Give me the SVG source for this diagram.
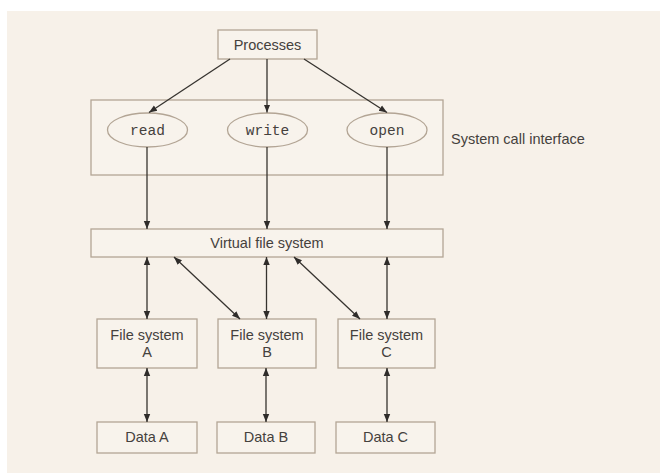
<svg xmlns="http://www.w3.org/2000/svg" width="669" height="473" viewBox="0 0 669 473">
  <style>
    .box { fill: #f8f3ec; stroke: #b3a595; stroke-width: 1.3; }
    .oval { fill: #f8f3ec; stroke: #b3a595; stroke-width: 1.3; }
    .lbl { font-family: "Liberation Sans", Arial, sans-serif; font-size: 14.5px; fill: #45413d; text-anchor: middle; }
    .side { font-family: "Liberation Sans", Arial, sans-serif; font-size: 14.5px; fill: #45413d; }
    .mono { font-family: "Liberation Mono", "DejaVu Sans Mono", monospace; font-size: 14.5px; fill: #45413d; text-anchor: middle; }
    .conn line { stroke: #36332f; stroke-width: 1.3; fill: none; }
    .one { marker-end: url(#head); }
    .two { marker-start: url(#head); marker-end: url(#head); }
  </style>
  <defs>
    <marker id="head" viewBox="0 0 10 10" refX="10" refY="5" markerWidth="8" markerHeight="8" markerUnits="userSpaceOnUse" orient="auto-start-reverse">
      <path d="M0,1 L10,5 L0,9 z" fill="#2f2c2a"/>
    </marker>
  </defs>

  <!-- page background -->
  <rect x="0" y="0" width="669" height="473" fill="#ffffff"/>
  <rect x="7" y="11" width="653" height="462" fill="#f7f1e9"/>

  <!-- processes -->
  <g id="processes">
    <rect class="box" x="218" y="30" width="99" height="29"/>
    <text class="lbl" x="267.5" y="50">Processes</text>
  </g>

  <!-- system call interface -->
  <g id="syscall-interface">
    <rect class="box" x="91" y="100" width="352" height="75"/>
    <text class="side" x="451" y="144">System call interface</text>
  </g>
  <g id="call-read">
    <ellipse class="oval" cx="147.5" cy="130" rx="40" ry="17"/>
    <text class="mono" x="147.5" y="135">read</text>
  </g>
  <g id="call-write">
    <ellipse class="oval" cx="267.5" cy="130" rx="40" ry="17"/>
    <text class="mono" x="267.5" y="135">write</text>
  </g>
  <g id="call-open">
    <ellipse class="oval" cx="387" cy="130" rx="40" ry="17"/>
    <text class="mono" x="387" y="135">open</text>
  </g>

  <!-- virtual file system -->
  <g id="vfs">
    <rect class="box" x="91" y="229" width="352" height="28"/>
    <text class="lbl" x="267" y="248">Virtual file system</text>
  </g>

  <!-- concrete file systems -->
  <g id="fs-a">
    <rect class="box" x="97" y="319" width="100" height="49"/>
    <text class="lbl" x="147" y="340">File system</text>
    <text class="lbl" x="147" y="357">A</text>
  </g>
  <g id="fs-b">
    <rect class="box" x="218" y="319" width="98" height="49"/>
    <text class="lbl" x="267" y="340">File system</text>
    <text class="lbl" x="267" y="357">B</text>
  </g>
  <g id="fs-c">
    <rect class="box" x="338" y="319" width="97" height="49"/>
    <text class="lbl" x="386.5" y="340">File system</text>
    <text class="lbl" x="386.5" y="357">C</text>
  </g>

  <!-- data stores -->
  <g id="data-a">
    <rect class="box" x="97" y="422" width="100" height="31"/>
    <text class="lbl" x="147" y="442">Data A</text>
  </g>
  <g id="data-b">
    <rect class="box" x="217" y="422" width="98" height="31"/>
    <text class="lbl" x="266" y="442">Data B</text>
  </g>
  <g id="data-c">
    <rect class="box" x="336" y="422" width="99" height="31"/>
    <text class="lbl" x="385.5" y="442">Data C</text>
  </g>

  <!-- connectors -->
  <g id="connectors" class="conn">
    <line class="one" x1="230" y1="59" x2="149" y2="112.5"/>
    <line class="one" x1="267" y1="59" x2="267" y2="112.5"/>
    <line class="one" x1="304" y1="59" x2="387" y2="112.5"/>

    <line class="one" x1="147" y1="147" x2="147" y2="229"/>
    <line class="one" x1="267" y1="147" x2="267" y2="229"/>
    <line class="one" x1="387" y1="147" x2="387" y2="229"/>

    <line class="two" x1="147" y1="257" x2="147" y2="319"/>
    <line class="two" x1="174" y1="257" x2="240" y2="319"/>
    <line class="two" x1="266.5" y1="257" x2="266.5" y2="319"/>
    <line class="two" x1="294" y1="257" x2="360" y2="319"/>
    <line class="two" x1="387" y1="257" x2="387" y2="319"/>

    <line class="two" x1="147" y1="368" x2="147" y2="422"/>
    <line class="two" x1="266" y1="368" x2="266" y2="422"/>
    <line class="two" x1="387" y1="368" x2="387" y2="422"/>
  </g>
</svg>
